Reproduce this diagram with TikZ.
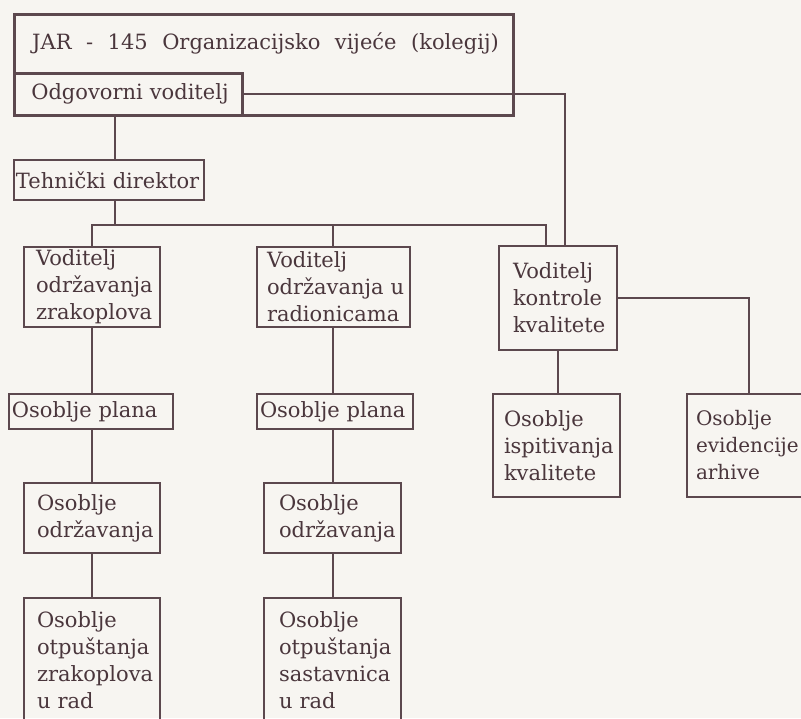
\documentclass[tikz,border=0pt]{standalone}
\usepackage{fontspec}
\setmainfont{DejaVu Serif}[WordSpace=1.6]
\usetikzlibrary{positioning}
\definecolor{ink}{RGB}{92,72,78}
\definecolor{type}{RGB}{74,54,60}
\definecolor{paper}{RGB}{247,245,241}
\tikzset{
  unit/.style={draw=ink, line width=2pt, text=type, anchor=north west, align=left,
    inner ysep=0pt, font=\fontsize{21}{27}\selectfont},
  link/.style={draw=ink, line width=1.8pt},
}

\begin{document}
\begin{tikzpicture}[x=1pt,y=-1pt]
\fill[paper] (0,0) rectangle (801,718);
\useasboundingbox (0,0) rectangle (801,718);

% top: council and accountable manager
\node[unit, line width=2.6pt, minimum width=499pt, minimum height=101pt, inner sep=0pt] (jarbox) at (13,13) {};
\node[text=type, anchor=base west, inner sep=0pt, font=\fontsize{21}{27}\selectfont] (jar) at (32,49) {\spaceskip=14.5pt\relax JAR - 145 Organizacijsko vijeće (kolegij)};
\node[unit, line width=2.6pt, text width=194pt, inner xsep=17pt, minimum height=42pt] (odg) at (13,72) {Odgovorni~voditelj};
\node[unit, text width=186pt, inner xsep=2pt, minimum height=40pt] (teh) at (13,159) {\mbox{Tehnički direktor}};

% managers
\node[unit, text width=112pt, inner xsep=12pt, minimum height=80pt] (vz) at (23,246) {Voditelj\\održavanja\\zrakoplova};
\node[unit, text width=133pt, inner xsep=10pt, minimum height=80pt] (vr) at (256,246) {Voditelj\\održavanja~u\\radionicama};
\node[unit, text width=90pt, inner xsep=14pt, minimum height=104pt] (kk) at (498,245) {Voditelj\\kontrole\\kvalitete};

% staff
\node[unit, text width=158pt, inner xsep=3pt, minimum height=35pt] (op1) at (8,393) {Osoblje~plana};
\node[unit, text width=150pt, inner xsep=3pt, minimum height=35pt] (op2) at (256,393) {Osoblje~plana};
\node[unit, text width=105pt, inner xsep=11pt, minimum height=103pt] (ik) at (492,393) {Osoblje\\ispitivanja\\kvalitete};
\node[unit, text width=106pt, inner xsep=9pt, minimum height=103pt, font=\fontsize{20}{27}\selectfont] (ea) at (686,393) {Osoblje\\evidencije\\arhive};
\node[unit, text width=110pt, inner xsep=13pt, minimum height=70pt] (oo1) at (23,482) {Osoblje\\održavanja};
\node[unit, text width=107pt, inner xsep=15pt, minimum height=70pt] (oo2) at (263,482) {Osoblje\\održavanja};
\node[unit, text width=110pt, inner xsep=13pt, minimum height=125pt] (ot1) at (23,597) {Osoblje\\otpuštanja\\zrakoplova\\u~rad};
\node[unit, text width=107pt, inner xsep=15pt, minimum height=125pt] (ot2) at (263,597) {Osoblje\\otpuštanja\\sastavnica\\u~rad};

% connectors
\coordinate (trunk) at (115,0);
\coordinate (bus) at (0,225);
\coordinate (mid) at (333,0);
\coordinate (kkl) at (546,0);
\coordinate (kkr) at (565,0);
\draw[link] (odg.south -| trunk) -- (teh.north -| trunk);
\draw[link] (teh.south -| trunk) -- (trunk |- bus);
\draw[link] (vz.north) -- (vz.north |- bus) -- (kkl |- bus) -- (kkl |- kk.north);
\draw[link] (vr.north -| mid) -- (mid |- bus);
\draw[link] (odg.east) -- (kkr |- odg.east) -- (kkr |- kk.north);
\draw[link] (kk.east) -| (ea.north);
\draw[link] (kk.south) -- (kk.south |- ik.north);
\draw[link] (vz.south) -- (vz.south |- op1.north);
\draw[link] (op1.south -| vz.south) -- (oo1.north);
\draw[link] (oo1.south) -- (ot1.north);
\draw[link] (vr.south -| mid) -- (op2.north -| mid);
\draw[link] (op2.south -| mid) -- (oo2.north -| mid);
\draw[link] (oo2.south -| mid) -- (ot2.north -| mid);
\end{tikzpicture}
\end{document}
